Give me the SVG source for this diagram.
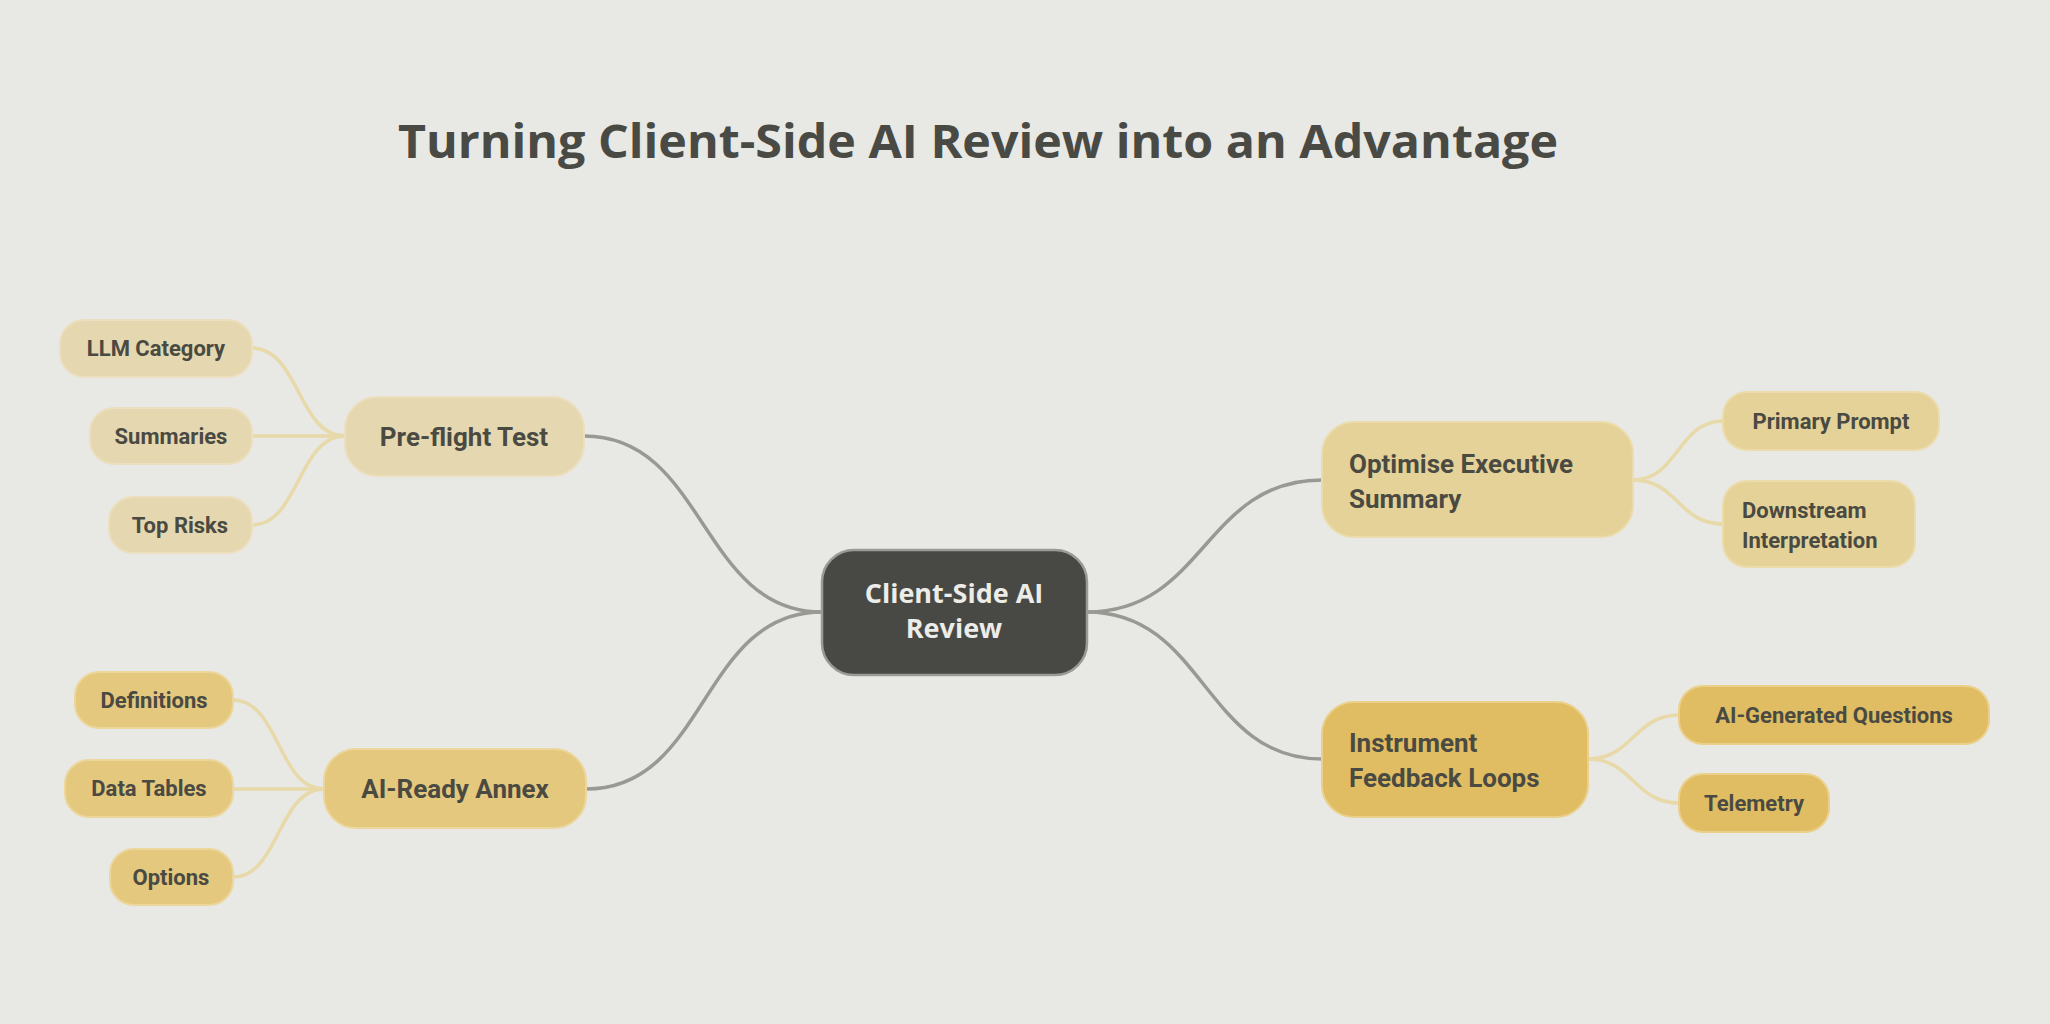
<svg xmlns="http://www.w3.org/2000/svg" width="2050" height="1024" viewBox="0 0 2050 1024">
<style>
.t{font-family:Roboto,"Liberation Sans",sans-serif;font-weight:bold;fill:#4a4a42}
.c{font-size:22px;text-anchor:middle}
.m{font-size:26px}
.main{fill:none;stroke:#999994;stroke-width:3.5}
.sub{fill:none;stroke:#e8d9a8;stroke-width:3.5}
.n1{fill:#e5d8b0;stroke:#ecdfbf;stroke-width:2}
.n2{fill:#e3c87e;stroke:#ecd69c;stroke-width:2}
.n3{fill:#e4d298;stroke:#ecdcab;stroke-width:2}
.n4{fill:#e0bd62;stroke:#ead08a;stroke-width:2}
</style>
<rect width="2050" height="1024" fill="#e8e8e5"/>
<text x="978" y="158" text-anchor="middle" font-family="'Open Sans','Noto Sans',sans-serif" font-weight="bold" font-size="46" fill="#4a4a45" textLength="1160" lengthAdjust="spacingAndGlyphs">Turning Client-Side AI Review into an Advantage</text>
<g id="connectors">
<path class="main" d="M822 612 C700 612 706 436 584 436"/>
<path class="main" d="M822 612 C700 612 708 789 586 789"/>
<path class="main" d="M1087 612 C1205 612 1204 480 1322 480"/>
<path class="main" d="M1087 612 C1205 612 1204 759 1322 759"/>
<path class="sub" d="M345 436 C298 436 299 348 252 348"/>
<path class="sub" d="M345 436 L252 436"/>
<path class="sub" d="M345 436 C298 436 299 525 252 525"/>
<path class="sub" d="M324 789 C278 789 279 700 233 700"/>
<path class="sub" d="M324 789 L233 789"/>
<path class="sub" d="M324 789 C278 789 279 877 233 877"/>
<path class="sub" d="M1633 480 C1678 480 1678 421 1723 421"/>
<path class="sub" d="M1633 480 C1678 480 1678 524 1723 524"/>
<path class="sub" d="M1588 759 C1633 759 1634 715 1679 715"/>
<path class="sub" d="M1588 759 C1633 759 1634 803 1679 803"/>
</g>
<g id="center"><rect x="822" y="550" width="265" height="125" rx="32" fill="#484844" stroke="#9a9a96" stroke-width="2.5"/>
<text x="954" y="603" text-anchor="middle" font-family="'Open Sans','Noto Sans',sans-serif" font-weight="bold" font-size="27" fill="#ececE8">Client-Side AI</text>
<text x="954" y="638" text-anchor="middle" font-family="'Open Sans','Noto Sans',sans-serif" font-weight="bold" font-size="27" fill="#ececE8">Review</text></g>
<g id="preflight"><rect class="n1" x="345" y="397" width="239" height="79" rx="32"/><text class="t m" x="464" y="446" text-anchor="middle">Pre-flight Test</text></g>
<g id="llm"><rect class="n1" x="60" y="320" width="192" height="57" rx="24"/><text class="t c" x="156" y="356">LLM Category</text></g>
<g id="summaries"><rect class="n1" x="90" y="408" width="162" height="56" rx="24"/><text class="t c" x="171" y="444">Summaries</text></g>
<g id="toprisks"><rect class="n1" x="109" y="497" width="143" height="56" rx="24"/><text class="t c" x="180" y="533">Top Risks</text></g>
<g id="annex"><rect class="n2" x="324" y="749" width="262" height="79" rx="32"/><text class="t m" x="455" y="798" text-anchor="middle">AI-Ready Annex</text></g>
<g id="definitions"><rect class="n2" x="75" y="672" width="158" height="56" rx="24"/><text class="t c" x="154" y="708">Definitions</text></g>
<g id="datatables"><rect class="n2" x="65" y="760" width="168" height="57" rx="24"/><text class="t c" x="149" y="796">Data Tables</text></g>
<g id="options"><rect class="n2" x="110" y="849" width="123" height="56" rx="24"/><text class="t c" x="171" y="885">Options</text></g>
<g id="optimise"><rect class="n3" x="1322" y="422" width="311" height="115" rx="32"/><text class="t m" x="1349" y="473">Optimise Executive</text><text class="t m" x="1349" y="508">Summary</text></g>
<g id="primary"><rect class="n3" x="1723" y="392" width="216" height="58" rx="24"/><text class="t c" x="1831" y="429">Primary Prompt</text></g>
<g id="downstream"><rect class="n3" x="1723" y="481" width="192" height="86" rx="24"/><text class="t" font-size="22" x="1742" y="518">Downstream</text><text class="t" font-size="22" x="1742" y="548">Interpretation</text></g>
<g id="instrument"><rect class="n4" x="1322" y="702" width="266" height="115" rx="32"/><text class="t m" x="1349" y="752">Instrument</text><text class="t m" x="1349" y="787">Feedback Loops</text></g>
<g id="aiq"><rect class="n4" x="1679" y="686" width="310" height="58" rx="24"/><text class="t c" x="1834" y="723">AI-Generated Questions</text></g>
<g id="telemetry"><rect class="n4" x="1679" y="774" width="150" height="58" rx="24"/><text class="t c" x="1754" y="811">Telemetry</text></g>
</svg>
